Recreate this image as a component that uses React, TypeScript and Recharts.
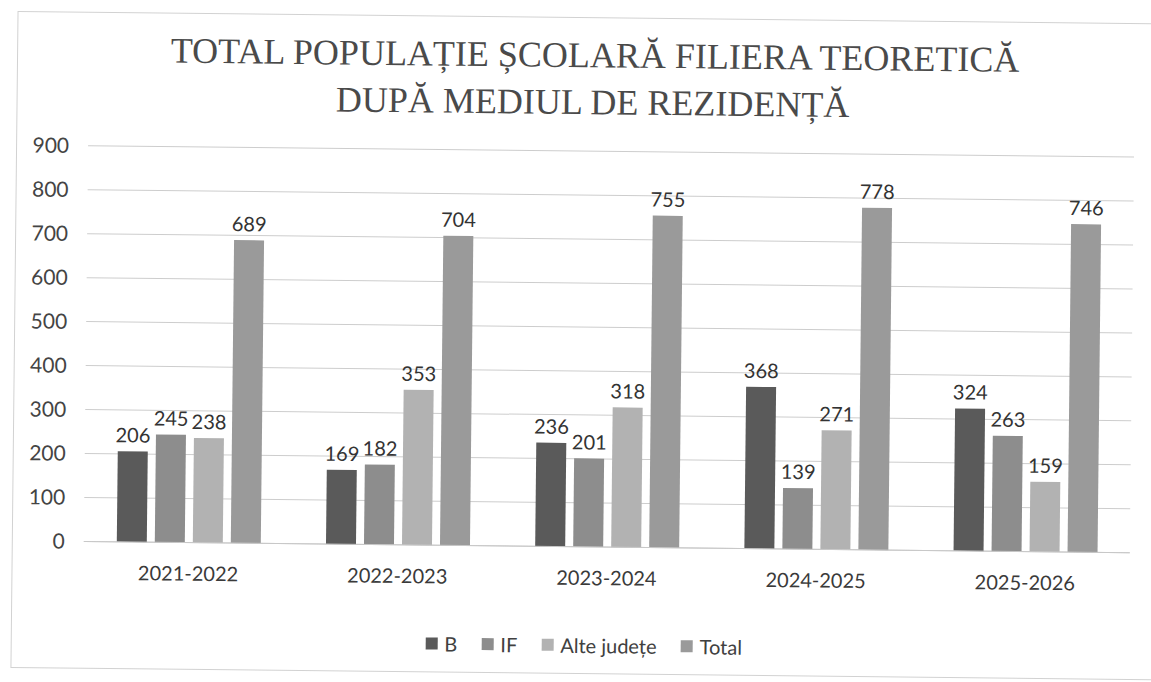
import React from 'react';
import { BarChart, Bar, XAxis, YAxis, CartesianGrid, Legend, LabelList } from 'recharts';

const categories = ['2021-2022', '2022-2023', '2023-2024', '2024-2025', '2025-2026'];
const seriesB = [206, 169, 236, 368, 324];
const seriesIF = [245, 182, 201, 139, 263];
const seriesAlte = [238, 353, 318, 271, 159];
const seriesTotal = [689, 704, 755, 778, 746];
const yTicks = [0, 100, 200, 300, 400, 500, 600, 700, 800, 900];
const titleLines = ['TOTAL POPULAȚIE ȘCOLARĂ FILIERA TEORETICĂ', 'DUPĂ MEDIUL DE REZIDENȚĂ'];

const seriesMeta = [
  { key: 'B', name: 'B', color: '#5a5a5a' },
  { key: 'IF', name: 'IF', color: '#8d8d8d' },
  { key: 'Alte', name: 'Alte județe', color: '#b2b2b2' },
  { key: 'Total', name: 'Total', color: '#9a9a9a' },
];

const data = categories.map((c, i) => ({
  cat: c,
  B: seriesB[i],
  IF: seriesIF[i],
  Alte: seriesAlte[i],
  Total: seriesTotal[i],
}));

const FONT = 'Lato, "Open Sans", sans-serif';

const LegendContent = (props: any) => {
  const payload = [...(props.payload || [])];
  const order = seriesMeta.map((s) => s.name);
  payload.sort((a: any, b: any) => order.indexOf(a.value) - order.indexOf(b.value));
  return (
    <div style={{ display: 'flex', justifyContent: 'center', alignItems: 'center', height: 24, fontFamily: FONT, fontSize: 20, color: '#404040' }}>
      {payload.map((p: any, i: number) => (
        <div key={i} style={{ display: 'flex', alignItems: 'center', marginRight: i < payload.length - 1 ? 24 : 0 }}>
          <span style={{ display: 'inline-block', width: 12, height: 12, background: p.color, marginRight: 7 }} />
          <span>{p.value}</span>
        </div>
      ))}
    </div>
  );
};

export default function App() {
  return (
    <div style={{ position: 'absolute', left: 0, top: 0, width: 1151, height: 682, overflow: 'hidden', background: '#ffffff' }}>
      <div style={{ position: 'absolute', left: 0, top: 0, width: 1151, height: 682, transform: 'rotate(0.62deg)', transformOrigin: '575px 341px' }}>
        <div style={{ position: 'absolute', left: 14, top: 17, width: 1150, height: 657, border: '1px solid #d2d2d2', boxSizing: 'border-box' }} />
        <svg style={{ position: 'absolute', left: 0, top: 0 }} width={1151} height={130}>
          <text x={592} y={67} textAnchor="middle" fontFamily='"Liberation Serif", serif' fontSize={36} fill="#4a4a4a">{titleLines[0]}</text>
          <text x={590} y={114} textAnchor="middle" fontFamily='"Liberation Serif", serif' fontSize={36} fill="#4a4a4a">{titleLines[1]}</text>
        </svg>
        <div style={{ position: 'absolute', left: 0, top: 0 }}>
          <BarChart width={1151} height={682} data={data} margin={{ top: 151, right: 19, left: 0, bottom: 25 }} barSize={30} barGap={8}>
            <CartesianGrid vertical={false} stroke="#cdcdcd" />
            <XAxis dataKey="cat" axisLine={{ stroke: '#c8c8c8' }} tickLine={false} tickSize={0} tickMargin={24} height={74}
              tick={{ fontFamily: FONT, fontSize: 20, fill: '#3a3a3a' }} interval={0} />
            <YAxis domain={[0, 900]} ticks={yTicks} width={86} axisLine={false} tickLine={false} tickSize={0} tickMargin={19}
              tick={{ fontFamily: FONT, fontSize: 21, fill: '#444444' }} />
            <Legend verticalAlign="bottom" content={<LegendContent />} wrapperStyle={{ left: 21 }} itemSorter={null as any} />
            {seriesMeta.map((s) => (
              <Bar key={s.key} dataKey={s.key} name={s.name} fill={s.color} isAnimationActive={false}>
                <LabelList dataKey={s.key} position="top" offset={9} style={{ fontFamily: FONT, fontSize: 20, fill: '#333333' }} />
              </Bar>
            ))}
          </BarChart>
        </div>
      </div>
    </div>
  );
}
